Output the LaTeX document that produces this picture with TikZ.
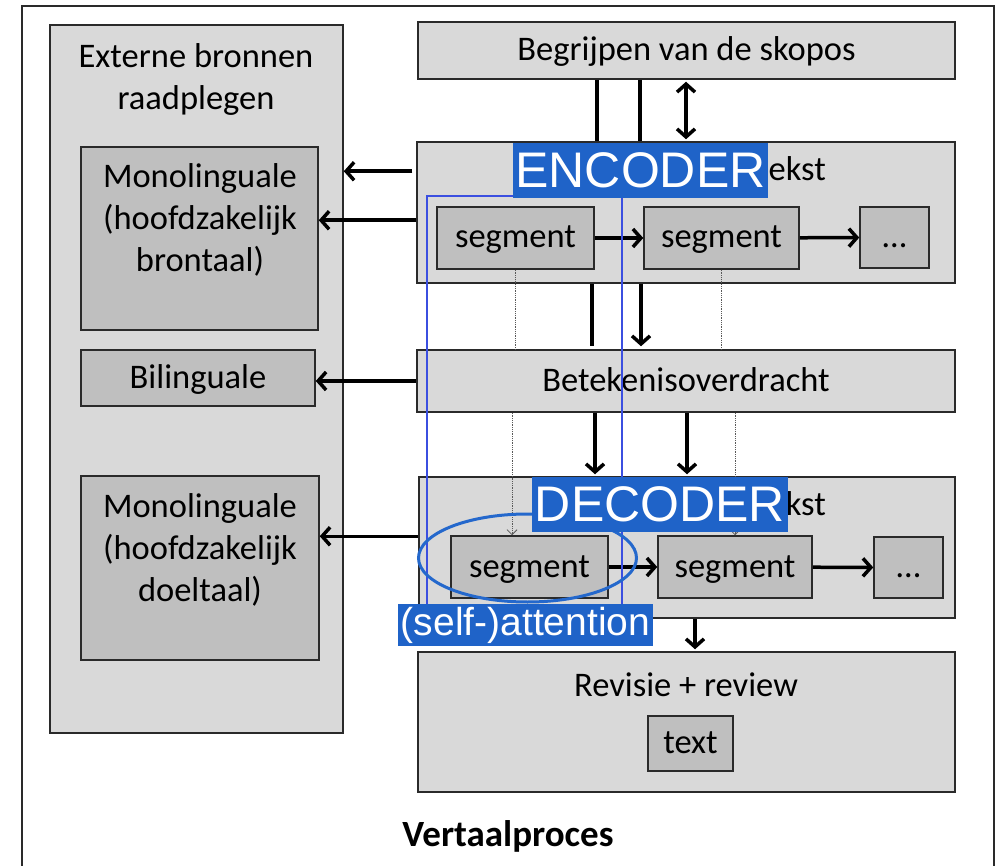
\documentclass[tikz,border=0pt]{standalone}
\usepackage{fontspec}
\setmainfont{Carlito}
\newfontfamily\tagfont{Liberation Sans}
\usetikzlibrary{arrows.meta,calc}

\definecolor{panelgray}{HTML}{D9D9D9}
\definecolor{boxgray}{HTML}{BFBFBF}
\definecolor{edge}{HTML}{2A2A2A}
\definecolor{tagblue}{HTML}{1F63C8}
\definecolor{frameblue}{HTML}{3B4FE0}
\definecolor{ringblue}{HTML}{2468CC}

\begin{document}
\begin{tikzpicture}[x=1pt,y=-1pt,
  panel/.style={draw=edge,fill=panelgray,line width=1.5pt,inner sep=0pt},
  box/.style={draw=edge,fill=boxgray,line width=1.5pt,inner sep=0pt,
    text height=24pt,text depth=4pt,font=\fontsize{34.5}{42}\selectfont},
  txt/.style={inner sep=0pt,align=center,font=\fontsize{34.5}{42}\selectfont},
  heavy/.style={line width=3.5pt,draw=black},
  arr/.style={heavy,-{Straight Barb[length=8pt,width=18pt]}},
  twoway/.style={heavy,{Straight Barb[length=8pt,width=18pt]}-{Straight Barb[length=8pt,width=18pt]}},
  hair/.style={line width=0.8pt,draw=black!65,densely dotted},
  hairarr/.style={hair,-{Straight Barb[length=5pt,width=10pt,line width=0.8pt]}},
  tag/.style={fill=tagblue,text=white,inner sep=0pt}
]
\useasboundingbox (0,0) rectangle (998,866);

% outer frame (open at the bottom)
\draw[edge,line width=1.5pt] (22,866) -- (22,6) -- (994,6) -- (994,866);

% ---------- left column: external sources ----------
\node[panel,minimum width=293,minimum height=708] (ext) at (196.5,379) {};
\node[txt] (exttitle) at (196,79) {Externe bronnen\\raadplegen};
\node[box,minimum width=237,minimum height=183] (mono1) at (199.5,238.5) {};
\node[txt] (mono1txt) at (200,219.5) {Monolinguale\\(hoofdzakelijk\\brontaal)};
\node[box,minimum width=234,minimum height=56] (bili) at (198,378) {Bilinguale};
\node[box,minimum width=238,minimum height=184] (mono2) at (200,568) {};
\node[txt] (mono2txt) at (200,549.5) {Monolinguale\\(hoofdzakelijk\\doeltaal)};

% ---------- right column: process steps ----------
\node[panel,minimum width=537,minimum height=57,text height=24pt,text depth=4pt,
  font=\fontsize{34.5}{42}\selectfont] (beg) at (686.5,50.5) {Begrijpen van de skopos};
\node[panel,minimum width=538,minimum height=141] (enc) at (686,212.5) {};
\node[txt,anchor=base east] (enctitle) at (826,181) {ekst};
\node[box,minimum width=157,minimum height=62] (es1) at (515.5,238) {segment};
\node[box,minimum width=155,minimum height=62] (es2) at (721.5,238) {segment};
\node[box,minimum width=69,minimum height=61] (edots) at (894.5,237.5) {…};

\node[panel,minimum width=538,minimum height=62,text height=24pt,text depth=4pt,
  font=\fontsize{34.5}{42}\selectfont] (bet) at (686,381) {Betekenisoverdracht};

\node[panel,minimum width=536,minimum height=141] (dec) at (687,547.5) {};
\node[txt,anchor=base east] (dectitle) at (826,515) {kst};
\node[box,minimum width=157,minimum height=62] (ds1) at (529.5,567) {segment};
\node[box,minimum width=154,minimum height=62] (ds2) at (735,567) {segment};
\node[box,minimum width=69,minimum height=61] (ddots) at (908.5,567.5) {…};

\node[panel,minimum width=537,minimum height=140] (rev) at (686.5,722) {};
\node[txt] (revtitle) at (686,685) {Revisie + review};
\node[box,minimum width=85,minimum height=55] (textbox) at (690.5,743.5) {text};

\node[txt,font=\fontsize{37}{44}\selectfont\bfseries] (caption) at (508,836) {Vertaalproces};

% ---------- column positions for the vertical links ----------
\coordinate (xa) at (597,0);
\coordinate (xb) at (640,0);
\coordinate (xc) at (686,0);
\coordinate (xd) at (592,0);
\coordinate (xe) at (641,0);
\coordinate (xf) at (595,0);
\coordinate (xg) at (687,0);
\coordinate (xh) at (695,0);
\coordinate (xi) at (512,0);

% skopos <-> source text
\draw[heavy] (beg.south -| xa) -- (enc.north -| xa);
\draw[heavy] (beg.south -| xb) -- (enc.north -| xb);
\draw[twoway,shorten <=2pt,shorten >=2pt] (beg.south -| xc) -- (enc.north -| xc);

% source text -> meaning transfer
\draw[heavy,shorten >=3pt] (enc.south -| xd) -- (bet.north -| xd);
\draw[arr,shorten >=3pt] (enc.south -| xe) -- (bet.north -| xe);

% meaning transfer -> target text
\draw[arr,shorten >=2pt] (bet.south -| xf) -- (dec.north -| xf);
\draw[arr,shorten >=2pt] (bet.south -| xg) -- (dec.north -| xg);

% target text -> revision
\draw[arr,shorten >=2pt] (dec.south -| xh) -- (rev.north -| xh);

% fine links between segments
\draw[hair] (es1.south) -- (es1.south |- bet.north);
\draw[hair] (es2.south) -- (es2.south |- bet.north);
\draw[hairarr] (bet.south -| xi) -- (ds1.north -| xi);
\draw[hairarr] (bet.south -| ds2.north) -- (ds2.north);

% segment chains
\draw[arr] (es1) -- (es2);
\draw[arr] (es2) -- (edots);
\draw[arr] (ds1) -- (ds2);
\draw[arr] (ds2) -- (ddots);

% consulting external sources
\draw[arr,shorten <=4pt] ([yshift=-30pt]enc.north west) -- ([yshift=-30pt]enc.north west -| ext.east);
\draw[arr] ([yshift=-79pt]enc.north west) -- ([yshift=-79pt]enc.north west -| mono1.east);
\draw[arr] (bet.west) -- (bet.west -| bili.east);
\draw[arr] ([yshift=-60pt]dec.north west) -- ([yshift=-60pt]dec.north west -| mono2.east);

% attention overlay
\node[draw=frameblue,line width=1.5pt,minimum width=195,minimum height=429,inner sep=0pt]
  (attframe) at (524.5,410.5) {};
\draw[ringblue,line width=3pt] (527.5,558) ellipse [x radius=109,y radius=44];

\node[tag,minimum width=255,minimum height=55,font=\tagfont\fontsize{50}{54}\selectfont]
  (enctag) at (640.5,170.5) {ENCODER};
\node[tag,minimum width=256,minimum height=55,font=\tagfont\fontsize{50}{54}\selectfont]
  (dectag) at (660,504.5) {DECODER};
\node[tag,minimum width=255,minimum height=42,font=\tagfont\fontsize{39}{44}\selectfont]
  (atttag) at (525.5,625) {(self-)attention};
\end{tikzpicture}
\end{document}
